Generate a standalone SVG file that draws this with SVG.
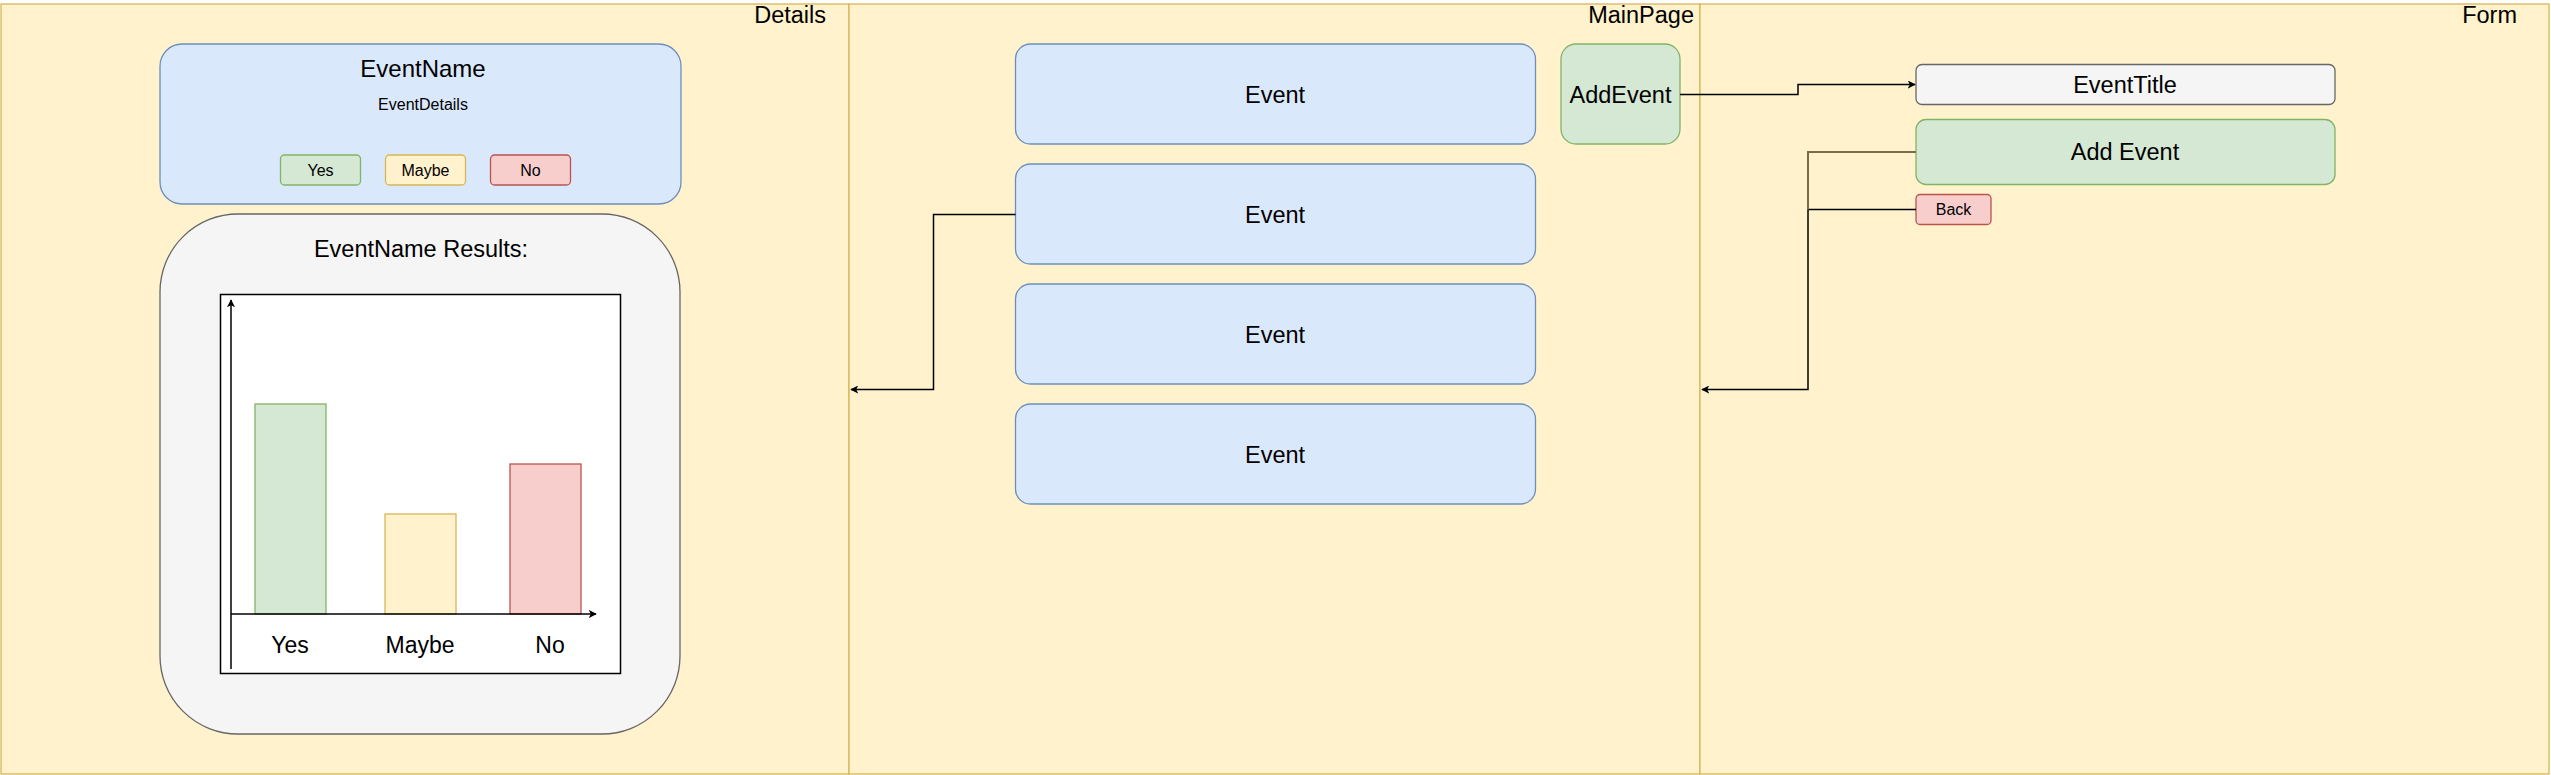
<svg xmlns="http://www.w3.org/2000/svg" width="2551" height="775" viewBox="0 0 2551 775">
<style>
text{font-family:"Liberation Sans",Arial,Helvetica,sans-serif;fill:#000;text-anchor:middle}
.lane{fill:#fff2cc;stroke:#d6b656;stroke-width:1.3}
.blue{fill:#dae8fc;stroke:#6c8ebf;stroke-width:1.3}
.green{fill:#d5e8d4;stroke:#82b366;stroke-width:1.3}
.yellow{fill:#fff2cc;stroke:#d6b656;stroke-width:1.3}
.red{fill:#f8cecc;stroke:#b85450;stroke-width:1.3}
.gray{fill:#f5f5f5;stroke:#666666;stroke-width:1.3}
.title{font-size:23.5px;text-anchor:end}
.big{font-size:23.5px}
.small{font-size:16px}
.edge{fill:none;stroke:#000;stroke-width:1.5}
</style>
<defs>
<marker id="arr" viewBox="0 0 10 10" refX="9" refY="5" markerWidth="8" markerHeight="8" markerUnits="userSpaceOnUse" orient="auto">
<path d="M0,0 L10,5 L0,10 L2.5,5 z" fill="#000"/>
</marker>
</defs>

<g id="lane-details">
<rect class="lane" x="1" y="4" width="848" height="770"/>
<text class="title" x="826" y="23">Details</text>
</g>
<g id="lane-mainpage">
<rect class="lane" x="849" y="4" width="851" height="770"/>
<text class="title" x="1694" y="23">MainPage</text>
</g>
<g id="lane-form">
<rect class="lane" x="1700" y="4" width="849" height="770"/>
<text class="title" x="2517" y="23">Form</text>
</g>

<g id="event-card">
<rect class="blue" x="160" y="44" width="521" height="160" rx="22"/>
<text x="423" y="77" style="font-size:24px">EventName</text>
<text x="423" y="110" style="font-size:16px">EventDetails</text>
</g>
<g id="btn-yes">
<rect class="green" x="280.5" y="155" width="80" height="30" rx="4"/>
<text class="small" x="320.5" y="176">Yes</text>
</g>
<g id="btn-maybe">
<rect class="yellow" x="385.5" y="155" width="80" height="30" rx="4"/>
<text class="small" x="425.5" y="176">Maybe</text>
</g>
<g id="btn-no">
<rect class="red" x="490.5" y="155" width="80" height="30" rx="4"/>
<text class="small" x="530.5" y="176">No</text>
</g>

<g id="results">
<rect class="gray" x="160" y="214" width="520" height="520" rx="78"/>
<text class="big" x="421" y="257">EventName Results:</text>
</g>
<g id="chart">
<rect x="220.5" y="294.5" width="400" height="379" fill="#ffffff" stroke="#000" stroke-width="1.5"/>
<rect class="green" x="255" y="404" width="71" height="210"/>
<rect class="yellow" x="385" y="514" width="71" height="100"/>
<rect class="red" x="510" y="464" width="71" height="150"/>
<line class="edge" x1="231" y1="669" x2="231" y2="300" marker-end="url(#arr)"/>
<line class="edge" x1="231" y1="614" x2="596" y2="614" marker-end="url(#arr)"/>
<text x="290" y="653" style="font-size:23px">Yes</text>
<text x="420" y="653" style="font-size:23px">Maybe</text>
<text x="550" y="653" style="font-size:23px">No</text>
</g>

<g id="event-1">
<rect class="blue" x="1015.5" y="44" width="520" height="100" rx="15"/>
<text class="big" x="1275" y="102.5">Event</text>
</g>
<g id="event-2">
<rect class="blue" x="1015.5" y="164" width="520" height="100" rx="15"/>
<text class="big" x="1275" y="222.5">Event</text>
</g>
<g id="event-3">
<rect class="blue" x="1015.5" y="284" width="520" height="100" rx="15"/>
<text class="big" x="1275" y="342.5">Event</text>
</g>
<g id="event-4">
<rect class="blue" x="1015.5" y="404" width="520" height="100" rx="15"/>
<text class="big" x="1275" y="462.5">Event</text>
</g>
<g id="add-event-btn">
<rect class="green" x="1561" y="44" width="119" height="100" rx="15"/>
<text class="big" x="1620.5" y="102.5">AddEvent</text>
</g>

<g id="event-title">
<rect class="gray" x="1916" y="64.5" width="419" height="40" rx="6"/>
<text class="big" x="2125" y="92.5">EventTitle</text>
</g>
<g id="add-event-submit">
<rect class="green" x="1916" y="119.5" width="419" height="65" rx="10"/>
<text class="big" x="2125" y="160">Add Event</text>
</g>
<g id="back-btn">
<rect class="red" x="1916" y="194.5" width="75" height="30" rx="4"/>
<text class="small" x="1953.5" y="215">Back</text>
</g>

<g id="connectors">
<path class="edge" d="M1015.5,214.5 H933.5 V389.5 H851" marker-end="url(#arr)"/>
<path class="edge" d="M1680,94.5 H1798 V84.5 H1915" marker-end="url(#arr)"/>
<path class="edge" d="M1916,209.5 H1808 V389.5 H1702" marker-end="url(#arr)"/>
<path class="edge" d="M1916,152 H1808 V209.5" style="stroke:#7a6c48;stroke-width:2"/>
</g>
</svg>
